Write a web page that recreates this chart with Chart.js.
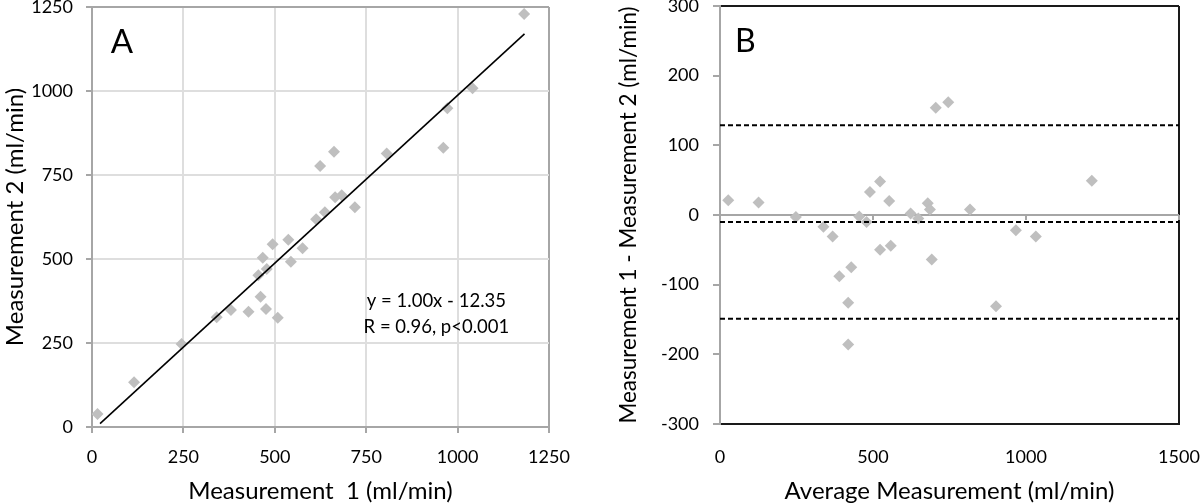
<!DOCTYPE html>
<html>
<head>
<meta charset="utf-8">
<script src="https://cdn.jsdelivr.net/npm/chart.js@4.4.1/dist/chart.umd.min.js"></script>
<style>
  html, body { margin: 0; padding: 0; background: #fff; }
  #wrap { position: relative; width: 1200px; height: 503px; }
  .panel { position: absolute; top: 0; width: 600px; height: 503px; }
  #panelA { left: 0; }
  #panelB { left: 600px; }
</style>
</head>
<body>
<div id="wrap">
  <div class="panel" id="panelA"><canvas id="chartA"></canvas></div>
  <div class="panel" id="panelB"><canvas id="chartB"></canvas></div>
</div>
<script>
// Panel A: measurement 1 vs measurement 2 (ml/min)
const measure1 = [15, 115, 245, 341, 380, 428, 455, 461, 467, 476, 478, 494, 508, 537, 544, 576, 613, 624, 637, 662, 665, 683, 719, 806, 961, 972, 1041, 1182]
const measure2 = [39, 133, 247, 327, 348, 343, 452, 388, 504, 351, 470, 544, 325, 557, 492, 532, 618, 777, 639, 819, 684, 690, 654, 814, 831, 949, 1008, 1229]
const trendX = [22, 1183]
const trendY = [10, 1170]
const ticksA = [0, 250, 500, 750, 1000, 1250]

// Panel B: Bland-Altman, average vs difference
const avgMeasure = [27, 126, 248, 338, 368, 390, 419, 419, 429, 455, 479, 490, 523, 523, 553, 558, 623, 648, 679, 686, 692, 705, 746, 817, 902, 967, 1032, 1215]
const diffMeasure = [21, 18, -3, -17, -31, -88, -126, -186, -75, -2, -10, 33, 48, -50, 20, -44, 2, -5, 17, 8, -64, 154, 162, 8, -131, -22, -31, 49]
const limitLines = [129, -10, -149]   // upper limit, mean diff, lower limit
const ticksBx = [0, 500, 1000, 1500]
const ticksBy = [-300, -200, -100, 0, 100, 200, 300]

const axisGray = '#a6a6a6'
const gridGray = '#dedede'
const markGray = '#bfbfbf'
const frameDark = '#1a1a1a'
const fontFam = 'Lato, "Open Sans", sans-serif'

const zeroPad = s => { s.paddingTop = s.paddingBottom = s.paddingLeft = s.paddingRight = 0 }
const fixTicks = arr => s => { s.ticks = arr.map(v => ({ value: v })) }

// text drawn at data coordinates
const panelText = {
  id: 'panelText',
  afterDatasetsDraw (chart, args, opts) {
    const { ctx, scales: { x, y } } = chart
    ctx.save()
    ;(opts.items || []).forEach(it => {
      ctx.font = it.font
      ctx.fillStyle = '#000'
      ctx.textAlign = it.align || 'left'
      ctx.textBaseline = 'alphabetic'
      ctx.fillText(it.text, x.getPixelForValue(it.x), y.getPixelForValue(it.y))
    })
    ctx.restore()
  }
}

// little tick marks on the zero line of panel B
const zeroTicks = {
  id: 'zeroTicks',
  beforeDatasetsDraw (chart) {
    const { ctx, scales: { x, y } } = chart
    const y0 = y.getPixelForValue(0)
    ctx.save()
    ctx.strokeStyle = axisGray
    ctx.lineWidth = 2
    ticksBx.slice(1).forEach(v => {
      const px = x.getPixelForValue(v)
      ctx.beginPath()
      ctx.moveTo(px, y0)
      ctx.lineTo(px, y0 + 5)
      ctx.stroke()
    })
    ctx.restore()
  }
}

const tickFont = { family: fontFam, size: 18 }
const titleFont = { family: fontFam, size: 24, lineHeight: 1 }

new Chart(document.getElementById('chartA'), {
  type: 'scatter',
  data: {
    datasets: [
      {
        type: 'line',
        data: trendX.map((v, i) => ({ x: v, y: trendY[i] })),
        borderColor: '#000',
        borderWidth: 1.6,
        pointRadius: 0
      },
      {
        data: measure1.map((v, i) => ({ x: v, y: measure2[i] })),
        pointStyle: 'rectRot',
        pointRadius: 6,
        backgroundColor: markGray,
        borderWidth: 0
      }
    ]
  },
  plugins: [panelText],
  options: {
    animation: false,
    responsive: true,
    maintainAspectRatio: false,
    devicePixelRatio: 1,
    events: [],
    layout: { padding: { left: 0, top: 7, right: 51, bottom: 0 } },
    plugins: {
      legend: { display: false },
      tooltip: { enabled: false },
      panelText: {
        items: [
          { text: 'A', x: 51, y: 1112, font: '33px ' + fontFam },
          { text: 'y = 1.00x - 12.35', x: 942, y: 358, align: 'center', font: '18.5px ' + fontFam },
          { text: 'R = 0.96, p<0.001', x: 942, y: 281, align: 'center', font: '18.5px ' + fontFam }
        ]
      }
    },
    scales: {
      x: {
        type: 'linear',
        min: 0,
        max: 1250,
        afterBuildTicks: fixTicks(ticksA),
        afterFit: s => { s.height = 76; zeroPad(s) },
        border: { color: axisGray, width: 2 },
        grid: {
          color: c => c.tick && c.tick.value === 1250 ? axisGray : gridGray,
          lineWidth: 2,
          tickColor: axisGray,
          tickLength: 6,
          tickWidth: 2
        },
        ticks: { color: '#000', font: tickFont, padding: 13, maxRotation: 0, callback: v => String(v) },
        title: { display: true, text: 'Measurement  1 (ml/min)', color: '#000', font: titleFont, padding: { top: 0, bottom: 0 } }
      },
      y: {
        type: 'linear',
        min: 0,
        max: 1250,
        afterBuildTicks: fixTicks(ticksA),
        afterFit: s => { s.width = 92; zeroPad(s) },
        border: { color: axisGray, width: 2 },
        grid: {
          color: c => c.tick && c.tick.value === 1250 ? axisGray : gridGray,
          lineWidth: 2,
          tickColor: axisGray,
          tickLength: 6,
          tickWidth: 2
        },
        ticks: { color: '#000', font: tickFont, padding: 13, callback: v => String(v) },
        title: { display: true, text: 'Measurement 2 (ml/min)', color: '#000', font: titleFont, padding: { top: 3, bottom: 0 } }
      }
    }
  }
})

new Chart(document.getElementById('chartB'), {
  type: 'scatter',
  data: {
    datasets: [
      ...limitLines.map(v => ({
        type: 'line',
        data: [{ x: ticksBx[0], y: v }, { x: ticksBx[ticksBx.length - 1], y: v }],
        borderColor: '#000',
        borderWidth: 2,
        borderDash: [5, 3],
        pointRadius: 0
      })),
      {
        data: avgMeasure.map((v, i) => ({ x: v, y: diffMeasure[i] })),
        pointStyle: 'rectRot',
        pointRadius: 6,
        backgroundColor: markGray,
        borderWidth: 0
      }
    ]
  },
  plugins: [panelText, zeroTicks],
  options: {
    animation: false,
    responsive: true,
    maintainAspectRatio: false,
    devicePixelRatio: 1,
    events: [],
    layout: { padding: { left: 0, top: 5, right: 21, bottom: 0 } },
    plugins: {
      legend: { display: false },
      tooltip: { enabled: false },
      panelText: {
        items: [
          { text: 'B', x: 49, y: 234, font: '32px ' + fontFam }
        ]
      }
    },
    scales: {
      x: {
        type: 'linear',
        min: 0,
        max: 1500,
        afterBuildTicks: fixTicks(ticksBx),
        afterFit: s => { s.height = 79; zeroPad(s) },
        border: { color: frameDark, width: 2 },
        grid: {
          color: c => c.tick && c.tick.value === 1500 ? frameDark : 'rgba(0,0,0,0)',
          lineWidth: 2,
          drawTicks: false
        },
        ticks: { color: '#000', font: tickFont, padding: 22, maxRotation: 0, callback: v => String(v) },
        title: { display: true, text: 'Average Measurement (ml/min)', color: '#000', font: titleFont, padding: { top: 0, bottom: 0 } }
      },
      y: {
        type: 'linear',
        min: -300,
        max: 300,
        afterBuildTicks: fixTicks(ticksBy),
        afterFit: s => { s.width = 120; zeroPad(s) },
        border: { color: axisGray, width: 2 },
        grid: {
          color: c => {
            if (!c.tick) return 'rgba(0,0,0,0)'
            if (c.tick.value === 300) return frameDark
            if (c.tick.value === 0) return axisGray
            return 'rgba(0,0,0,0)'
          },
          lineWidth: 2,
          tickColor: axisGray,
          tickLength: 7,
          tickWidth: 2
        },
        ticks: { color: '#000', font: tickFont, padding: 14, callback: v => String(v) },
        title: { display: true, text: 'Measurement 1 - Measurement 2 (ml/min)', color: '#000', font: { family: fontFam, size: 22.5, lineHeight: 1 }, padding: { top: 17, bottom: 0 } }
      }
    }
  }
})
</script>
</body>
</html>
